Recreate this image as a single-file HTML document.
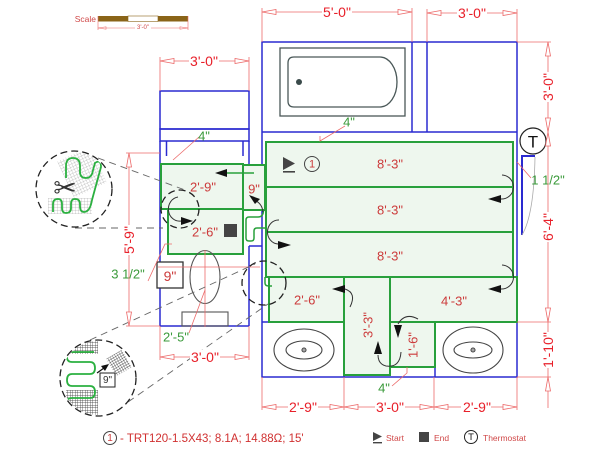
<!DOCTYPE html>
<html><head><meta charset="utf-8"><style>
html,body{margin:0;padding:0;background:#fff;}
svg{display:block;}
text{font-family:"Liberation Sans",Arial,sans-serif;}
</style></head><body>
<svg width="600" height="450" viewBox="0 0 600 450" xmlns="http://www.w3.org/2000/svg">
<defs>
<pattern id="g1" width="3" height="3" patternUnits="userSpaceOnUse"><rect width="3" height="3" fill="#fff"/><path d="M0 0H3M0 0V3" stroke="#9a9a9a" stroke-width="0.5" fill="none"/></pattern>
<pattern id="g2" width="2.5" height="2.5" patternUnits="userSpaceOnUse"><rect width="2.5" height="2.5" fill="#fff"/><path d="M0 0H2.5M0 0V2.5" stroke="#333" stroke-width="0.7" fill="none"/></pattern>
<clipPath id="c1"><circle cx="74" cy="189" r="37"/></clipPath>
<clipPath id="c2"><circle cx="98" cy="378" r="37"/></clipPath>
</defs>
<rect width="600" height="450" fill="#fff"/>

<!-- Scale -->
<text x="96" y="22" font-size="8.5" fill="#d04848" text-anchor="end">Scale</text>
<rect x="98" y="16" width="30" height="5.5" fill="#8a6418"/>
<rect x="128" y="16" width="30" height="5.5" fill="#fff" stroke="#8a6418" stroke-width="0.6"/>
<rect x="158" y="16" width="30" height="5.5" fill="#8a6418"/>
<g stroke="#ec6a6a" stroke-width="0.6" fill="#fff">
<line x1="98" y1="16" x2="98" y2="30"/><line x1="188" y1="16" x2="188" y2="30"/>
<line x1="98" y1="28" x2="188" y2="28"/>
<polygon points="98,28 106,26.8 106,29.2"/><polygon points="188,28 180,26.8 180,29.2"/>
</g>
<rect x="135" y="25" width="16" height="6" fill="#fff"/>
<text x="143" y="28" font-size="6" fill="#d04848" text-anchor="middle" dominant-baseline="central">3'-0"</text>

<!-- Blue walls -->
<g stroke="#2a2ad0" stroke-width="1.5" fill="none">
<rect x="262" y="42" width="255" height="335"/>
<line x1="412" y1="42" x2="412" y2="132"/>
<line x1="427" y1="42" x2="427" y2="132"/>
<line x1="262" y1="132" x2="517" y2="132"/>
<line x1="262" y1="322" x2="344" y2="322"/>
<line x1="344" y1="322" x2="344" y2="377"/>
<line x1="435" y1="322" x2="435" y2="377"/>
<line x1="435" y1="322" x2="517" y2="322"/>
<line x1="344" y1="322" x2="390" y2="322" stroke-dasharray="5,4" stroke-width="1"/>
<rect x="160" y="91" width="89" height="38"/>
<rect x="160" y="129" width="89" height="12"/>
<line x1="160" y1="141" x2="160" y2="326"/>
<line x1="166.5" y1="141" x2="166.5" y2="156"/>
<line x1="243" y1="141" x2="243" y2="156"/>
<line x1="249" y1="141" x2="249" y2="165"/>
<line x1="249" y1="246" x2="249" y2="326"/>
<line x1="249" y1="246" x2="262" y2="246"/>
<line x1="160" y1="326" x2="249" y2="326"/>
</g>
<path d="M522 235V156H535" stroke="#2a2ad0" stroke-width="2" fill="none"/>
<path d="M535 157Q534 215 522 235" stroke="#aaa" fill="none" stroke-width="0.8"/>

<!-- Bathtub -->
<rect x="280" y="48" width="125" height="68" fill="none" stroke="#4a5858" stroke-width="1.3"/>
<path d="M294 57H380A17 25 0 0 1 380 107H294Q288 107 288 101V63Q288 57 294 57Z" fill="none" stroke="#4a5858" stroke-width="1.3"/>
<circle cx="299" cy="82" r="3" fill="#3a4a4a"/>

<!-- Sinks -->
<g fill="none" stroke="#444" stroke-width="1.1">
<ellipse cx="304" cy="350" rx="30" ry="21"/>
<ellipse cx="304" cy="350" rx="18" ry="9"/>
<circle cx="304" cy="350" r="2"/>
<ellipse cx="473" cy="350" rx="30" ry="23"/>
<ellipse cx="473" cy="350" rx="19" ry="8"/>
<circle cx="473" cy="350" r="2"/>
</g>
<path d="M302 350h4M304 348v4M471 350h4M473 348v4" stroke="#444" stroke-width="0.6"/>

<!-- Heating zones -->
<g fill="#eef7ee" stroke="#28a03c" stroke-width="2">
<rect x="266" y="142" width="247" height="45"/>
<rect x="266" y="187" width="247" height="45"/>
<rect x="266" y="232" width="247" height="45"/>
<rect x="390" y="277" width="127" height="45"/>
<rect x="344" y="277" width="46" height="98"/>
<rect x="390" y="322" width="45" height="45"/>
<rect x="269" y="277" width="75" height="45"/>
<rect x="161" y="164" width="82" height="45"/>
<rect x="168" y="209" width="75" height="45"/>
<rect x="243" y="165" width="22" height="45"/>
</g>
<path d="M263.5 210Q263.5 217 258 217H249Q246 217 246 220V238Q246 241 249 241H251Q254 241 254 238V231Q254 228 257 228H265" fill="none" stroke="#28a03c" stroke-width="1.5"/>
<path d="M265 277V283Q265 286 269 286H272" fill="none" stroke="#28a03c" stroke-width="1.5"/>
<line x1="226" y1="173" x2="254" y2="173" stroke="#28a03c" stroke-width="1.5"/>

<!-- Toilet -->
<ellipse cx="205" cy="277" rx="15" ry="26.5" fill="none" stroke="#555" stroke-width="1.1"/>
<rect x="182" y="312" width="46" height="14" fill="none" stroke="#555" stroke-width="1.1"/>
<rect x="157" y="262" width="26" height="26" fill="#fff" stroke="#333" stroke-width="1.3"/>

<!-- Thin pink leader / centre lines -->
<g stroke="#ec6a6a" stroke-width="0.8" fill="none">
<line x1="158" y1="267" x2="260" y2="267"/>
<line x1="205" y1="250" x2="205" y2="327"/>
<line x1="189" y1="333" x2="205" y2="290"/>
<path d="M148 281L165 244H172"/>
<path d="M320 136V141L345 126"/>
<line x1="199" y1="137" x2="173" y2="160"/>
<line x1="531" y1="178" x2="517" y2="162"/>
<path d="M392 386L407 373V367"/>
</g>

<!-- Zone labels -->
<g font-size="13" fill="#cc3b3b" text-anchor="middle" dominant-baseline="central">
<text x="390" y="164">8'-3"</text>
<text x="390" y="210">8'-3"</text>
<text x="390" y="256">8'-3"</text>
<text x="203" y="187">2'-9"</text>
<text x="254" y="189">9"</text>
<text x="205" y="232">2'-6"</text>
<text x="307" y="300">2'-6"</text>
<text x="454" y="301">4'-3"</text>
<text transform="translate(368,325) rotate(-90)">3'-3"</text>
<text transform="translate(413,345) rotate(-90)">1'-6"</text>
<text x="170" y="276" font-size="14">9"</text>
</g>

<!-- Green labels -->
<g font-size="13" fill="#3a9a3a" text-anchor="middle" dominant-baseline="central">
<text x="204" y="136">4"</text>
<text x="349" y="122">4"</text>
<text x="548" y="180">1 1/2"</text>
<text x="128" y="274">3 1/2"</text>
<text x="176" y="337">2'-5"</text>
<text x="384" y="388">4"</text>
</g>

<!-- Start / circle 1 / End -->
<polygon points="283,157 295,163.5 283,170" fill="#444"/>
<rect x="283" y="171" width="12" height="1.6" fill="#444"/>
<circle cx="312" cy="164" r="7.5" fill="none" stroke="#444" stroke-width="1"/>
<text x="312" y="164.5" font-size="11" fill="#cc3b3b" text-anchor="middle" dominant-baseline="central">1</text>
<rect x="224" y="224" width="13" height="13" fill="#444"/>

<!-- Thermostat -->
<circle cx="533" cy="141" r="13" fill="#fff" stroke="#222" stroke-width="1.2"/>
<text x="533" y="142" font-size="17" fill="#111" text-anchor="middle" dominant-baseline="central">T</text>

<!-- Flow arcs & arrows -->
<g fill="none" stroke="#333" stroke-width="1">
<path d="M263 212Q262 203 254 200"/>
<path d="M178 197A11 12 0 0 0 181 221"/>
<path d="M502 175A12 12 0 0 1 501 199"/>
<path d="M279 220A11 12 0 0 0 278 244"/>
<path d="M502 265A12 12 0 0 1 501 289"/>
<path d="M418 319Q405 312 398 324"/>
<path d="M401 352Q400 368 386 366Q378 364 378 355"/>
<path d="M345 289Q357 293 350 307"/>
</g>
<g fill="#111">
<polygon points="215,173 227,169 227,177"/>
<polygon points="249,195 260,199 255,204"/>
<polygon points="193,221 181,217 181,225"/>
<polygon points="488,199 501,195 501,203"/>
<polygon points="291,245 278,241 278,249"/>
<polygon points="488,289 501,285 501,293"/>
<polygon points="398,338 394,325 402,325"/>
<polygon points="378,341 374,354 382,354"/>
<polygon points="332,289 345,285 345,293"/>
</g>

<!-- Dashed circles & connectors -->
<g fill="none" stroke="#222" stroke-width="1.3" stroke-dasharray="7,4">
<circle cx="180" cy="209" r="19"/>
<circle cx="264" cy="283" r="22"/>
</g>
<g stroke="#666" stroke-width="0.9" stroke-dasharray="7,5" fill="none">
<line x1="98" y1="158" x2="185" y2="190"/>
<line x1="75" y1="228" x2="163" y2="228"/>
<line x1="90" y1="340" x2="255" y2="264"/>
<line x1="128" y1="402" x2="268" y2="304"/>
</g>

<!-- Magnifier 1 -->
<g clip-path="url(#c1)">
<rect x="-18" y="-20" width="36" height="40" fill="url(#g1)" transform="translate(82,172) rotate(-25)"/>
<rect x="48" y="198" width="44" height="16" fill="url(#g1)"/>
<path d="M66 178V166Q66 158 73 158Q80 158 80 166V172Q80 178 86 178Q92 178 93 170L95 163Q101 159 101 167L92 200Q90 212 84 212Q80 212 80 206V204Q80 199 75 199Q71 199 71 204V208Q71 213 66 213Q62 213 62 208V204Q62 199 58 199Q53 199 53 204V212" fill="none" stroke="#2bb040" stroke-width="1.8"/>
</g>
<circle cx="74" cy="189" r="38" fill="none" stroke="#222" stroke-width="1.3" stroke-dasharray="7,4"/>
<text x="65" y="188" font-size="28" fill="#333" text-anchor="middle" dominant-baseline="central" font-family="DejaVu Sans, sans-serif">✂</text>

<!-- Magnifier 2 -->
<g clip-path="url(#c2)">
<rect x="68" y="341" width="30" height="13" fill="url(#g2)"/>
<rect x="66" y="390" width="32" height="26" fill="url(#g2)"/>
<rect x="-9" y="-10" width="18" height="20" fill="url(#g2)" transform="translate(119,363) rotate(-30)"/>
<path d="M94 352H72Q67 352 67 357Q67 362 72 362H90Q95 362 95 368Q95 374 90 374H72Q67 374 67 380Q67 386 72 386H90Q95 386 95 392Q95 398 90 398H72Q67 398 67 402" fill="none" stroke="#2bb040" stroke-width="1.8"/>
</g>
<circle cx="98" cy="378" r="38" fill="none" stroke="#222" stroke-width="1.3" stroke-dasharray="7,4"/>
<line x1="97" y1="373" x2="104" y2="368" stroke="#111" stroke-width="1.2"/>
<polygon points="109,364 101,366 105,371" fill="#111"/>
<rect x="100" y="373" width="15" height="14" fill="#fff" stroke="#222" stroke-width="1"/>
<text x="107.5" y="380.5" font-size="10" fill="#333" text-anchor="middle" dominant-baseline="central">9"</text>

<!-- Dimensions -->
<g stroke="#ec6a6a" stroke-width="0.8" fill="#fff">
<line x1="262" y1="8" x2="262" y2="42"/><line x1="412" y1="8" x2="412" y2="42"/>
<line x1="262" y1="12" x2="412" y2="12"/>
<polygon points="262,12 276,9.5 276,14.5"/><polygon points="412,12 398,9.5 398,14.5"/>
<line x1="427" y1="9" x2="427" y2="42"/><line x1="517" y1="9" x2="517" y2="42"/>
<line x1="427" y1="13" x2="517" y2="13"/>
<polygon points="427,13 441,10.5 441,15.5"/><polygon points="517,13 503,10.5 503,15.5"/>
<line x1="160" y1="57" x2="160" y2="91"/><line x1="249" y1="57" x2="249" y2="91"/>
<line x1="160" y1="61" x2="249" y2="61"/>
<polygon points="160,61 174,58.5 174,63.5"/><polygon points="249,61 235,58.5 235,63.5"/>
<line x1="517" y1="42" x2="551" y2="42"/>
<line x1="517" y1="322" x2="551" y2="322"/>
<line x1="517" y1="377" x2="551" y2="377"/>
<line x1="548" y1="42" x2="548" y2="408"/>
<polygon points="548,42 545.5,56 550.5,56"/><polygon points="548,132 545.5,118 550.5,118"/>
<polygon points="548,132 545.5,146 550.5,146"/><polygon points="548,322 545.5,308 550.5,308"/>
<polygon points="548,377 545.5,391 550.5,391"/>
<line x1="126" y1="153" x2="160" y2="153"/><line x1="126" y1="326" x2="160" y2="326"/>
<line x1="129" y1="153" x2="129" y2="326"/>
<polygon points="129,153 126.5,167 131.5,167"/><polygon points="129,326 126.5,312 131.5,312"/>
<line x1="160" y1="326" x2="160" y2="360"/><line x1="249" y1="326" x2="249" y2="360"/>
<line x1="160" y1="357" x2="249" y2="357"/>
<polygon points="160,357 174,354.5 174,359.5"/><polygon points="249,357 235,354.5 235,359.5"/>
<line x1="262" y1="377" x2="262" y2="410"/><line x1="344" y1="377" x2="344" y2="410"/>
<line x1="434" y1="377" x2="434" y2="410"/><line x1="517" y1="377" x2="517" y2="410"/>
<line x1="262" y1="407" x2="517" y2="407"/>
<polygon points="262,407 276,404.5 276,409.5"/><polygon points="344,407 330,404.5 330,409.5"/>
<polygon points="344,407 358,404.5 358,409.5"/><polygon points="434,407 420,404.5 420,409.5"/>
<polygon points="434,407 448,404.5 448,409.5"/><polygon points="517,407 503,404.5 503,409.5"/>
</g>
<g fill="#fff">
<rect x="322" y="5" width="30" height="14"/>
<rect x="457" y="6" width="30" height="14"/>
<rect x="189" y="54" width="30" height="14"/>
<rect x="541" y="72" width="14" height="30"/>
<rect x="541" y="212" width="14" height="30"/>
<rect x="541" y="332" width="14" height="36"/>
<rect x="122" y="225" width="14" height="30"/>
<rect x="190" y="350" width="30" height="14"/>
<rect x="288" y="400" width="30" height="14"/>
<rect x="375" y="400" width="30" height="14"/>
<rect x="461" y="400" width="30" height="14"/>
</g>
<g font-size="14" fill="#e8202a" text-anchor="middle" dominant-baseline="central">
<text x="337" y="12">5'-0"</text>
<text x="472" y="13">3'-0"</text>
<text x="204" y="61">3'-0"</text>
<text transform="translate(548,87) rotate(-90)">3'-0"</text>
<text transform="translate(548,227) rotate(-90)">6'-4"</text>
<text transform="translate(548,350) rotate(-90)">1'-10"</text>
<text transform="translate(129,240) rotate(-90)">5'-9"</text>
<text x="205" y="357">3'-0"</text>
<text x="303" y="407">2'-9"</text>
<text x="390" y="407">3'-0"</text>
<text x="477" y="407">2'-9"</text>
</g>

<!-- Legend -->
<circle cx="110" cy="438" r="6.5" fill="none" stroke="#444" stroke-width="1"/>
<text x="110" y="438.5" font-size="10" fill="#cc3b3b" text-anchor="middle" dominant-baseline="central">1</text>
<text x="120" y="442" font-size="11.5" fill="#d03030">- TRT120-1.5X43; 8.1A; 14.88Ω; 15'</text>
<polygon points="373,432 382,436.5 373,441" fill="#444"/>
<rect x="373" y="442" width="9" height="1.4" fill="#444"/>
<text x="386" y="441" font-size="8.5" fill="#d04848">Start</text>
<rect x="419" y="432" width="10" height="10" fill="#444"/>
<text x="434" y="441" font-size="8.5" fill="#d04848">End</text>
<circle cx="471" cy="437" r="6.5" fill="#fff" stroke="#222" stroke-width="1"/>
<text x="471" y="437.5" font-size="9.5" fill="#111" text-anchor="middle" dominant-baseline="central">T</text>
<text x="483" y="441" font-size="8.5" fill="#d04848">Thermostat</text>
</svg>
</body></html>
